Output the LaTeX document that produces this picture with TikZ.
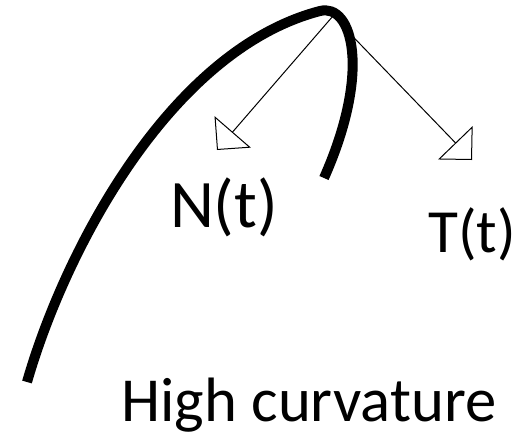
\documentclass[tikz,border=0pt]{standalone}
\usepackage{fontspec}
\setmainfont{Carlito}
\usetikzlibrary{arrows.meta}

\begin{document}
\begin{tikzpicture}[
  x=0.75pt, y=-0.75pt,
  curveline/.style={line width=7.5pt, line cap=butt},
  vecarr/.style={-{Triangle[open,length=18pt,width=36pt]}, line width=0.75pt},
  lbl/.style={inner sep=0pt, anchor=base}
]
\useasboundingbox (0,0) rectangle (530,436);

% the curve
\draw[curveline] (27,382) .. controls (65,250) and (170,50) .. (320,11)
  .. controls (352,3) and (372,70) .. (324,178);

\coordinate (origin) at (333,16);
\coordinate (ntip) at (217,150);
\coordinate (ttip) at (472,160);

\draw[vecarr] (origin) -- (ntip);
\draw[vecarr] (origin) -- (ttip);

\node[lbl, font=\fontsize{51}{52}\selectfont] (nlabel) at (224,227) {N(t)};
\node[lbl, font=\fontsize{46}{47}\selectfont] (tlabel) at (472,252) {T(t)};
\node[lbl, font=\fontsize{47}{48}\selectfont] (caption) at (309,421) {High curvature};

\end{tikzpicture}
\end{document}
